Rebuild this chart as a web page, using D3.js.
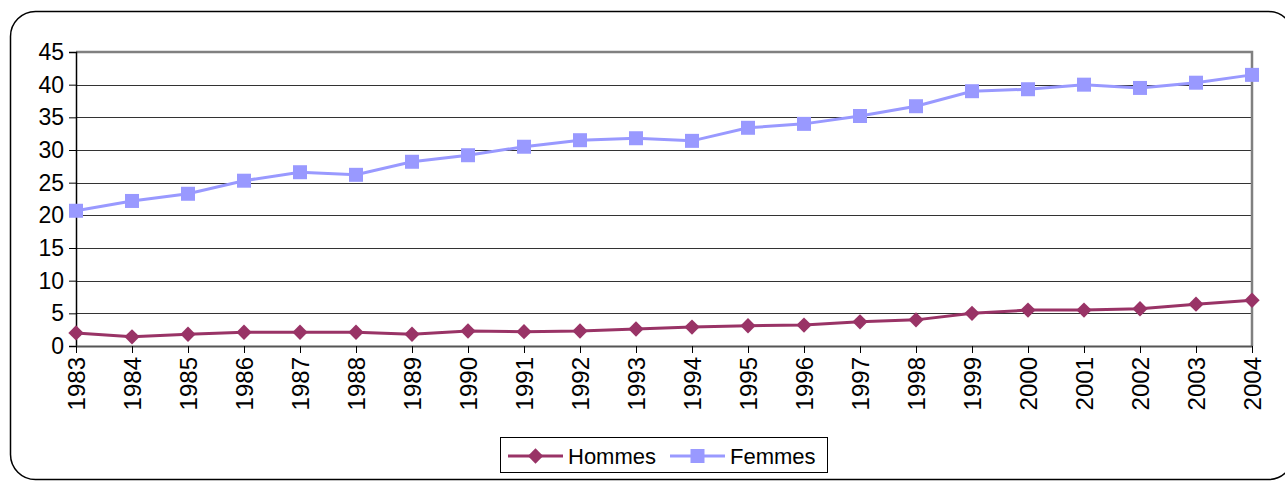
<!DOCTYPE html>
<html>
<head>
<meta charset="utf-8">
<script src="https://cdn.jsdelivr.net/npm/d3@7/dist/d3.min.js"></script>
<style>
  body { margin: 0; background: #fff; }
  svg { display: block; font-family: "Liberation Sans", Arial, sans-serif; }
</style>
</head>
<body>
<script>
// data
var years = ["1983","1984","1985","1986","1987","1988","1989","1990","1991","1992","1993",
             "1994","1995","1996","1997","1998","1999","2000","2001","2002","2003","2004"];
var hommes = [2.0,1.4,1.8,2.1,2.1,2.1,1.8,2.3,2.2,2.3,2.6,2.9,3.1,3.2,3.7,4.0,5.0,5.5,5.5,5.7,6.4,7.0];
var femmes = [20.7,22.2,23.3,25.3,26.6,26.2,28.2,29.2,30.5,31.5,31.8,31.4,33.4,34.0,35.2,36.7,39.0,39.3,40.0,39.5,40.3,41.5];
var yTicks = [0,5,10,15,20,25,30,35,40,45];

var W = 1285, H = 481;
var margin = {top: 52, right: 33, bottom: 135, left: 76},
    width = W - margin.left - margin.right,
    height = H - margin.top - margin.bottom;
var fontSize = 22;

var svg = d3.select("body").append("svg")
    .attr("width", W).attr("height", H);

// outer rounded frame
svg.append("rect")
    .attr("x", 10.5).attr("y", 11.5)
    .attr("width", 1283).attr("height", 468)
    .attr("rx", 25).attr("ry", 25)
    .attr("fill", "none").attr("stroke", "#000").attr("stroke-width", 1.5);

var g = svg.append("g")
    .attr("transform", "translate(" + margin.left + "," + margin.top + ")");

var x = d3.scalePoint().domain(years).range([0, width]);
var y = d3.scaleLinear().domain([0, 45]).range([height, 0]);

// gridlines
g.selectAll(".grid").data(yTicks.slice(1, -1))
  .enter().append("line")
    .attr("x1", 0).attr("x2", width)
    .attr("y1", function(d) { return Math.round(y(d)) + 0.5; })
    .attr("y2", function(d) { return Math.round(y(d)) + 0.5; })
    .attr("stroke", "#333").attr("stroke-width", 1);

// top / right frame (gray)
g.append("path")
    .attr("d", "M0," + 0 + "H" + width + "V" + height)
    .attr("fill", "none").attr("stroke", "#808080").attr("stroke-width", 2.5);

// Y axis
var yAxis = g.append("g")
    .call(d3.axisLeft(y).tickValues(yTicks).tickSize(7).tickPadding(5));
yAxis.select(".domain").attr("stroke", "#000").attr("stroke-width", 1.5);
yAxis.selectAll(".tick line").attr("stroke", "#000");
yAxis.selectAll("text").attr("font-size", 23).attr("fill", "#000")
    .attr("font-family", "Liberation Sans, Arial, sans-serif");

// X axis
var xAxis = g.append("g")
    .attr("transform", "translate(0," + height + ")")
    .call(d3.axisBottom(x).tickSize(7).tickSizeOuter(0));
xAxis.select(".domain").attr("stroke", "#555").attr("stroke-width", 2);
xAxis.selectAll(".tick line").attr("stroke", "#000");
xAxis.selectAll("text")
    .attr("font-size", 24).attr("fill", "#000")
    .attr("font-family", "Liberation Sans, Arial, sans-serif")
    .attr("transform", "rotate(-90)")
    .attr("text-anchor", "end")
    .attr("x", -11).attr("y", 0).attr("dy", "0.35em");

var line = d3.line()
    .x(function(d, i) { return x(years[i]); })
    .y(function(d) { return y(d); });

var diamond = d3.symbol().type(d3.symbolDiamond2).size(150);
var square = d3.symbol().type(d3.symbolSquare).size(196);

// Femmes
g.append("path").datum(femmes)
    .attr("d", line).attr("fill", "none")
    .attr("stroke", "#9999FF").attr("stroke-width", 3);
g.selectAll(".sq").data(femmes).enter().append("path")
    .attr("d", square)
    .attr("transform", function(d, i) { return "translate(" + x(years[i]) + "," + y(d) + ")"; })
    .attr("fill", "#9999FF");

// Hommes
g.append("path").datum(hommes)
    .attr("d", line).attr("fill", "none")
    .attr("stroke", "#993366").attr("stroke-width", 3);
g.selectAll(".dm").data(hommes).enter().append("path")
    .attr("d", diamond)
    .attr("transform", function(d, i) { return "translate(" + x(years[i]) + "," + y(d) + ")"; })
    .attr("fill", "#993366");

// legend
var leg = svg.append("g");
leg.append("rect")
    .attr("x", 500.5).attr("y", 437.5).attr("width", 327).attr("height", 35)
    .attr("fill", "#fff").attr("stroke", "#000");

var items = [
  {name: "Hommes", color: "#993366", sym: diamond, x0: 508},
  {name: "Femmes", color: "#9999FF", sym: square, x0: 670}
];
items.forEach(function(it) {
  leg.append("line")
    .attr("x1", it.x0).attr("x2", it.x0 + 55)
    .attr("y1", 456).attr("y2", 456)
    .attr("stroke", it.color).attr("stroke-width", 3);
  leg.append("path").attr("d", it.sym)
    .attr("transform", "translate(" + (it.x0 + 27.5) + ",456)")
    .attr("fill", it.color);
  leg.append("text")
    .attr("x", it.x0 + 60).attr("y", 456).attr("dy", "0.35em")
    .attr("font-size", fontSize).attr("fill", "#000")
    .text(it.name);
});
</script>
</body>
</html>
